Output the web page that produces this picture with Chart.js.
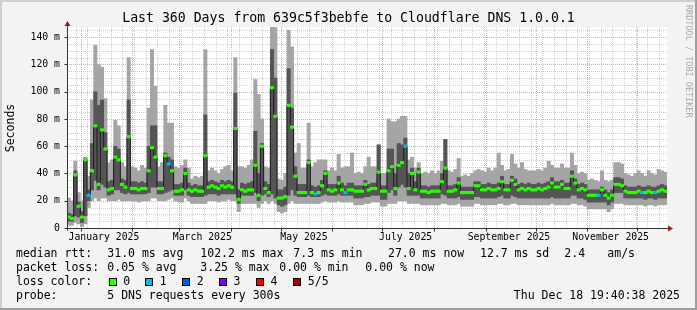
<!DOCTYPE html>
<html>
<head>
<meta charset="utf-8">
<script src="https://cdn.jsdelivr.net/npm/chart.js@4.4.1/dist/chart.umd.min.js"></script>
<style>
html,body{margin:0;padding:0;background:#f3f3f3;}
canvas{display:block;}
</style>
</head>
<body>
<canvas id="chartCanvas" width="697" height="310"></canvas>
<script>
// data, one entry per 2-day bucket (360 days), values in ms
const bucketDays = 2;

const smokeMin = [
  2, 2, 4, 3, 1, 3,15,20,22,20,
 22,22,20,20,20,21,20,20,20,20,
 20,19,20,20,20,22,22,20,20,20,
 21,22,20,19,19,22,20,18,18,18,
 18,18,20,20,20,19,20,20,21,20,
 20,12,18,18,18,18,18,15,18,20,
 18,20,18,12,11,12,18,20,18,18,
 18,18,18,18,18,18,19,20,19,19,
 19,20,19,19,19,19,17,17,17,18,
 18,19,19,19,16,16,18,18,18,20,
 20,20,18,18,18,18,17,17,17,17,
 17,17,18,18,17,17,17,18,16,16,
 16,16,18,18,17,17,17,17,17,18,
 18,17,17,18,18,17,17,17,17,17,
 17,17,17,17,17,18,17,17,17,17,
 17,18,18,17,17,16,14,14,14,14,
 14,14,12,14,18,18,18,17,17,17,
 17,17,17,16,17,17,16,17,17,17];

const smokeLow = [
  5, 5, 9, 8, 4, 9,20,28,35,28,
 32,30,24,25,28,28,26,25,26,25,
 25,25,25,25,26,30,30,25,25,26,
 27,28,24,24,24,28,24,23,23,23,
 23,24,25,25,25,24,25,25,25,25,
 25,18,24,24,24,24,26,20,24,25,
 23,25,22,17,16,17,24,28,24,23,
 23,23,24,23,23,23,24,25,24,24,
 24,25,24,24,24,24,22,22,22,23,
 23,24,24,24,21,21,26,28,24,30,
 32,30,24,24,24,24,22,22,22,22,
 22,22,25,24,22,22,22,23,21,21,
 21,21,23,23,22,22,22,22,22,23,
 24,22,22,24,23,22,22,22,22,22,
 22,22,22,22,22,23,22,22,22,22,
 22,24,24,22,22,21,19,19,19,19,
 19,19,17,19,26,26,26,22,22,22,
 22,22,22,21,22,22,21,22,22,22];

const median = [
  8, 7,39,16, 8,50,24,42,75,32,
 72,58,28,29,52,50,32,30,67,29,
 29,28,29,29,42,59,52,29,29,53,
 47,42,27,27,28,40,28,27,28,27,
 27,53,30,31,30,29,31,30,31,30,
 73,21,28,27,28,28,46,24,60,29,
 26,103,82,22,22,23,90,74,38,26,
 26,26,48,26,25,26,31,40,28,27,
 28,33,28,26,28,28,27,27,27,32,
 28,29,29,41,27,27,42,45,29,46,
 48,60,29,40,28,41,27,27,26,27,
 27,27,34,44,27,27,28,33,26,26,
 26,26,31,31,28,28,29,28,28,29,
 34,28,28,35,32,28,29,28,29,28,
 28,29,28,29,30,33,30,30,32,29,
 29,38,33,28,29,28,24,24,24,24,
 28,24,22,24,32,32,31,27,26,26,
 26,27,26,26,27,26,26,27,28,27];

const smokeHigh = [
 11,10,42,19,12,51,28,62,100,90,
 94,70,34,35,60,58,36,35,94,34,
 34,33,34,33,60,75,75,34,34,55,
 52,50,32,32,33,44,33,31,32,31,
 31,83,34,35,34,33,35,34,35,34,
 99,28,33,32,33,34,71,40,62,34,
 32,131,110,28,28,30,117,88,45,32,
 32,32,50,31,30,31,35,42,32,32,
 32,38,33,31,33,33,31,31,31,35,
 32,33,33,61,31,31,58,58,40,62,
 61,66,40,44,34,44,31,31,30,31,
 31,31,40,65,31,31,32,37,30,30,
 30,30,34,34,32,32,33,32,32,33,
 38,32,32,38,36,32,33,32,33,32,
 32,33,32,33,34,37,34,34,35,33,
 33,42,36,32,33,32,28,28,28,28,
 30,28,26,28,37,37,36,31,30,30,
 30,31,30,30,31,30,30,31,32,31];

const smokeMax = [
 22,20,49,26,20,52,38,94,134,120,
 118,95,48,50,79,75,48,45,125,45,
 44,42,46,44,88,131,104,45,48,90,
 77,77,45,44,46,50,44,36,38,37,
 38,131,42,44,42,40,43,45,46,42,
 125,45,45,44,46,50,109,98,80,45,
 44,148,147,36,35,40,145,133,55,62,
 44,44,77,45,48,50,50,50,42,44,
 42,54,44,45,45,55,40,41,40,45,
 52,45,45,61,40,40,80,78,78,80,
 82,82,50,52,44,48,40,41,40,42,
 40,42,49,65,42,41,43,51,38,39,
 38,40,42,43,42,41,44,42,44,55,
 46,42,43,54,47,44,48,43,42,42,
 42,43,42,44,49,46,44,44,47,44,
 44,55,46,40,41,40,35,36,35,34,
 42,35,34,35,48,48,47,40,39,38,
 40,42,40,38,42,40,39,43,42,41];

// buckets where 1 of 5 requests was lost
const loss1Buckets = [6,30,74,83,101,159,172,176];

// x axis (days since Dec 23 2024 19:40)
const monthStarts = [8.18,39.18,67.18,98.18,128.18,159.18,189.18,220.18,251.18,281.18,312.18,342.18];
const monthLabelDays = [22.18,81.18,142.18,203.18,265.18,326.18];
const monthLabels = ['January 2025','March 2025','May 2025','July 2025','September 2025','November 2025'];
const firstSunday = 5.18;
const yTicks = [0,20,40,60,80,100,120,140];

const lossColors = ['#26ff00','#00b8ff','#0059ff','#7e00ff','#ff0000','#a00000'];
const lossNames = ['0','1','2','3','4','5/5'];

const FONT = '"DejaVu Sans Mono", monospace';

//building datasets
const lightData = [], darkData = [], medLine = [], medMarks = [], medColors = [];
for (let i = 0; i < median.length; i++) {
    const x = i * bucketDays + bucketDays / 2;
    lightData.push({x: x, y: [smokeMin[i], smokeMax[i]]});
    darkData.push({x: x, y: [smokeLow[i], smokeHigh[i]]});
    medLine.push({x: x, y: median[i]});
    medMarks.push({x: x, y: [median[i] - 0.9, median[i] + 0.9]});
    medColors.push(loss1Buckets.includes(i) ? lossColors[1] : lossColors[0]);
}

// background, frame and grid
const gridPlugin = {
    id: 'rrdGrid',
    beforeDraw(chart) {
        const ctx = chart.ctx, a = chart.chartArea;
        const xs = chart.scales.x, ys = chart.scales.y;
        ctx.save();
        ctx.fillStyle = '#f3f3f3';
        ctx.fillRect(0, 0, chart.width, chart.height);
        ctx.fillStyle = '#cfcfcf';
        ctx.fillRect(0, 0, chart.width, 2);
        ctx.fillRect(0, 0, 2, chart.height);
        ctx.fillStyle = '#9e9e9e';
        ctx.fillRect(0, chart.height - 2, chart.width, 2);
        ctx.fillRect(chart.width - 2, 0, 2, chart.height);
        ctx.fillStyle = '#ffffff';
        ctx.fillRect(a.left, a.top, a.right - a.left, a.bottom - a.top);

        ctx.lineWidth = 1;
        ctx.setLineDash([1, 1]);
        // minor
        ctx.strokeStyle = '#cfcfcf';
        ctx.beginPath();
        for (let v = 5; v < ys.max; v += 5) {
            if (v % 20 === 0) continue;
            const y = Math.round(ys.getPixelForValue(v)) + 0.5;
            ctx.moveTo(a.left, y); ctx.lineTo(a.right, y);
        }
        for (let d = firstSunday; d < xs.max; d += 7) {
            const x = Math.round(xs.getPixelForValue(d)) + 0.5;
            ctx.moveTo(x, a.top); ctx.lineTo(x, a.bottom);
        }
        ctx.stroke();
        // major
        ctx.strokeStyle = '#eea0a0';
        ctx.beginPath();
        for (let v = 20; v < ys.max; v += 20) {
            const y = Math.round(ys.getPixelForValue(v)) + 0.5;
            ctx.moveTo(a.left, y); ctx.lineTo(a.right, y);
        }
        monthStarts.forEach(d => {
            const x = Math.round(xs.getPixelForValue(d)) + 0.5;
            ctx.moveTo(x, a.top); ctx.lineTo(x, a.bottom);
        });
        ctx.stroke();
        ctx.restore();
    },
    afterDatasetsDraw(chart) {
        const ctx = chart.ctx, a = chart.chartArea;
        const xs = chart.scales.x, ys = chart.scales.y;
        const x0 = Math.round(a.left) + 0.5, y0 = Math.round(a.bottom) + 0.5;
        ctx.save();
        ctx.strokeStyle = '#333';
        ctx.lineWidth = 1;
        ctx.beginPath();
        ctx.moveTo(x0, y0); ctx.lineTo(a.right + 2, y0);
        ctx.moveTo(x0, y0 + 2); ctx.lineTo(x0, a.top - 2);
        yTicks.forEach(v => {
            const y = Math.round(ys.getPixelForValue(v)) + 0.5;
            ctx.moveTo(x0 - 3, y); ctx.lineTo(x0, y);
        });
        monthStarts.forEach(d => {
            const x = Math.round(xs.getPixelForValue(d)) + 0.5;
            ctx.moveTo(x, y0); ctx.lineTo(x, y0 + 3);
        });
        ctx.stroke();
        // arrows
        ctx.fillStyle = '#a01818';
        ctx.beginPath();
        ctx.moveTo(x0, a.top - 6); ctx.lineTo(x0 - 3, a.top - 1); ctx.lineTo(x0 + 3, a.top - 1);
        ctx.closePath(); ctx.fill();
        ctx.beginPath();
        ctx.moveTo(a.right + 6, y0); ctx.lineTo(a.right + 1, y0 - 3); ctx.lineTo(a.right + 1, y0 + 3);
        ctx.closePath(); ctx.fill();
        ctx.restore();
    },
    afterDraw(chart) {
        const ctx = chart.ctx;
        ctx.save();
        ctx.fillStyle = '#000';
        ctx.textBaseline = 'middle';
        ctx.font = '13.2px ' + FONT;
        ctx.textAlign = 'center';
        ctx.fillText('Last 360 Days from 639c5f3bebfe to Cloudflare DNS 1.0.0.1', 348.5, 19);

        ctx.font = '11.5px ' + FONT;
        ctx.save();
        ctx.translate(11, 128);
        ctx.rotate(-Math.PI / 2);
        ctx.fillText('Seconds', 0, 0);
        ctx.restore();

        ctx.save();
        ctx.fillStyle = '#a8a8a8';
        ctx.font = '8.5px ' + FONT;
        ctx.translate(688, 5);
        ctx.rotate(Math.PI / 2);
        ctx.textAlign = 'left';
        ctx.fillText('RRDTOOL / TOBI OETIKER', 0, 0);
        ctx.restore();

        ctx.textAlign = 'left';
        const rows = [
            [254, [['median rtt:',16],['31.0 ms avg',107.3],['102.2 ms max',200.3],['7.3 ms min',293.3],['27.0 ms now',388],['12.7 ms sd',480],['2.4',564.3],['am/s',607.3]]],
            [268, [['packet loss:',16],['0.05 % avg',107.3],['3.25 % max',200.3],['0.00 % min',279.3],['0.00 % now',365.3]]],
            [282, [['loss color:',16]]],
            [296, [['probe:',16],['5 DNS requests every 300s',107.3]]]
        ];
        rows.forEach(r => r[1].forEach(t => ctx.fillText(t[0], t[1], r[0])));

        const boxX = [108.7,145.3,182.3,219,256,293.3];
        lossColors.forEach((c, i) => {
            ctx.fillStyle = c;
            ctx.fillRect(boxX[i], 278.5, 7, 7);
            ctx.strokeStyle = '#000';
            ctx.lineWidth = 1;
            ctx.strokeRect(Math.round(boxX[i]) + 0.5, 278.5, 7, 7);
            ctx.fillStyle = '#000';
            ctx.fillText(lossNames[i], boxX[i] + 14.5, 282);
        });

        ctx.textAlign = 'right';
        ctx.fillText('Thu Dec 18 19:40:38 2025', 680, 296);
        ctx.restore();
    }
};

const data = {
    datasets: [
        {type: 'bar', data: lightData, backgroundColor: '#a5a5a5', order: 4},
        {type: 'bar', data: darkData, backgroundColor: '#555555', order: 3},
        {type: 'line', data: medLine, borderColor: '#1a1a1a', borderWidth: 1, stepped: 'middle',
         pointRadius: 0, fill: false, order: 2},
        {type: 'bar', data: medMarks, backgroundColor: medColors, order: 1}
    ]
};

const config = {
    type: 'bar',
    data: data,
    options: {
        responsive: false,
        animation: false,
        events: [],
        layout: {padding: {left: 0, top: 27, right: 30, bottom: 0}},
        datasets: {
            bar: {grouped: false, barPercentage: 1, categoryPercentage: 1, borderWidth: 0}
        },
        plugins: {
            legend: {display: false},
            tooltip: {enabled: false}
        },
        scales: {
            x: {
                type: 'linear',
                min: 0,
                max: 360,
                offset: false,
                grid: {display: false, drawTicks: false, offset: false},
                border: {display: false},
                afterBuildTicks: s => { s.ticks = monthLabelDays.map(v => ({value: v})); },
                afterFit: s => { s.height = 82; },
                ticks: {
                    autoSkip: false,
                    maxRotation: 0,
                    padding: 4,
                    color: '#000',
                    font: {family: FONT, size: 9.8},
                    callback: (v, i) => monthLabels[i]
                }
            },
            y: {
                type: 'linear',
                min: 0,
                max: 147.5,
                grid: {display: false, drawTicks: false},
                border: {display: false},
                afterBuildTicks: s => { s.ticks = yTicks.map(v => ({value: v})); },
                afterFit: s => { s.width = 67; },
                ticks: {
                    padding: 7,
                    color: '#000',
                    font: {family: FONT, size: 9.8},
                    callback: v => v === 0 ? '0' : v + ' m'
                }
            }
        }
    },
    plugins: [gridPlugin]
};

const myChart = new Chart(document.getElementById('chartCanvas'), config);
</script>
</body>
</html>
